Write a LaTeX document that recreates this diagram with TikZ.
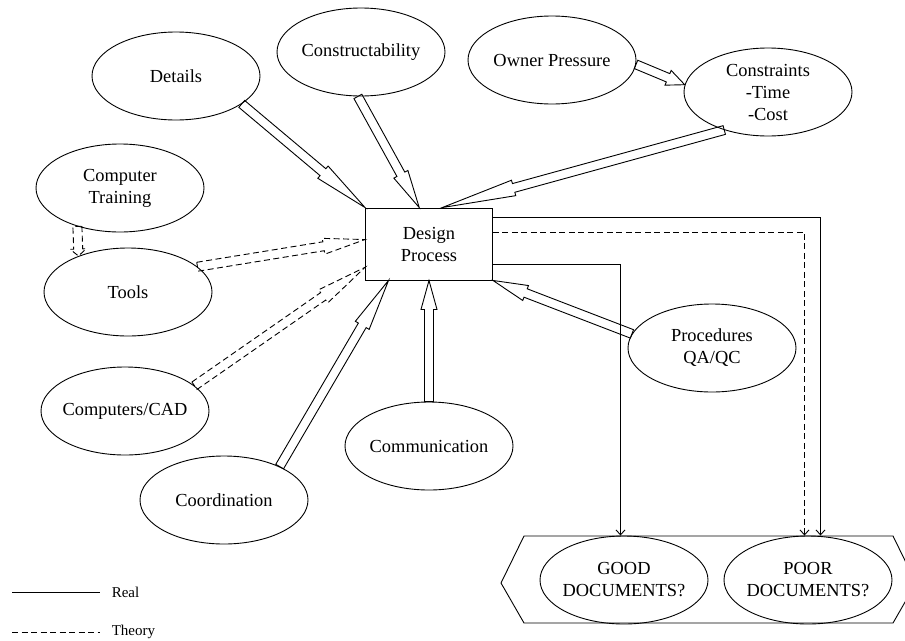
\documentclass[tikz,border=0pt]{standalone}
\usepackage{fontspec}
\setmainfont{Liberation Serif}
\usepackage{tikz}
\usetikzlibrary{shapes,arrows.meta,calc}
% hollow block arrow: [style]{tail}{tip}{head length}
\newcommand{\barrow}[4][]{%
  \path (#2) coordinate (ta) (#3) coordinate (tb);
  \path ($(tb)!#4!(ta)$) coordinate (th);
  \draw[#1] ($(ta)!4.5pt!90:(tb)$) -- ($(th)!4.5pt!90:(tb)$) -- ($(th)!8pt!90:(tb)$) -- (tb)
    -- ($(th)!8pt!-90:(tb)$) -- ($(th)!4.5pt!-90:(tb)$) -- ($(ta)!4.5pt!-90:(tb)$) -- cycle;
}

\begin{document}
\begin{tikzpicture}[x=1pt, y=-1pt, line width=0.9pt,
	font=\fontsize{18.4}{22}\selectfont,
	ell/.style={draw, ellipse, minimum width=168pt, minimum height=88pt, inner xsep=-4pt, inner ysep=0pt, align=center},
	box/.style={draw, rectangle, minimum width=127pt, minimum height=72pt, align=center},
	theory/.style={dash pattern=on 6pt off 3.5pt},
	flow/.style={-{Straight Barb[length=5pt,width=9pt]}}]
	\useasboundingbox (0,0) rectangle (905,640);

	\node[box] (dp) at (429,244) {Design\\Process};

	\node[ell] (details) at (176,76) {Details};
	\node[ell] (cons) at (361,52) {Constructability};
	\node[ell] (owner) at (552,60) {Owner Pressure};
	\node[ell] (limits) at (768,92) {Constraints\\-Time\\-Cost};
	\node[ell] (ctrain) at (120,188) {Computer\\Training};
	\node[ell] (tools) at (128,292) {Tools};
	\node[ell] (cad) at (125,411) {Computers/CAD};
	\node[ell] (coord) at (224,500) {Coordination};
	\node[ell] (comm) at (429,446) {Communication};
	\node[ell] (proc) at (712,348) {Procedures\\QA/QC};

	% outcome box
	\draw (501,583) -- (524,536) -- (893,536) -- (916,583) -- (893,623) -- (524,623) -- cycle;
	\node[ell] (good) at (624,580) {GOOD\\DOCUMENTS?};
	\node[ell] (poor) at (808,580) {POOR\\DOCUMENTS?};

	\barrow{details.-23}{dp.north west}{55pt}
	\barrow{cons.-94}{dp.105}{38pt}
	\barrow{owner.-3}{limits.175}{18pt}
	\barrow{limits.-139}{dp.70}{74pt}
	\barrow[theory]{ctrain.-138.5}{tools.144.8}{7pt}
	\barrow[theory]{tools.20}{dp.176}{42pt}
	\barrow[theory]{cad.20}{dp.200}{51pt}
	\barrow{coord.31}{dp.-138}{52pt}
	\barrow{comm.north}{dp.south}{29pt}
	\barrow{proc.170}{dp.south east}{35pt}

	\draw[flow] ([yshift=27pt]dp.east) -| ([xshift=12.5pt]poor.north);
	\draw[flow,theory] ([yshift=12pt]dp.east) -| ([xshift=-3.5pt]poor.north);
	\draw[flow] ([yshift=-20pt]dp.east) -| ([xshift=-3.5pt]good.north);

	% legend
	\node[anchor=west, font=\fontsize{15}{18}\selectfont] (real) at (108,592) {Real};
	\node[anchor=west, font=\fontsize{15}{18}\selectfont] (theo) at (108,632) {Theory};
	\coordinate (r0) at (12,592);
	\coordinate (t0) at (12,632);
	\draw (r0) -- ([xshift=-8pt]real.west);
	\draw[theory] (t0) -- ([xshift=-8pt]theo.west);
\end{tikzpicture}
\end{document}
